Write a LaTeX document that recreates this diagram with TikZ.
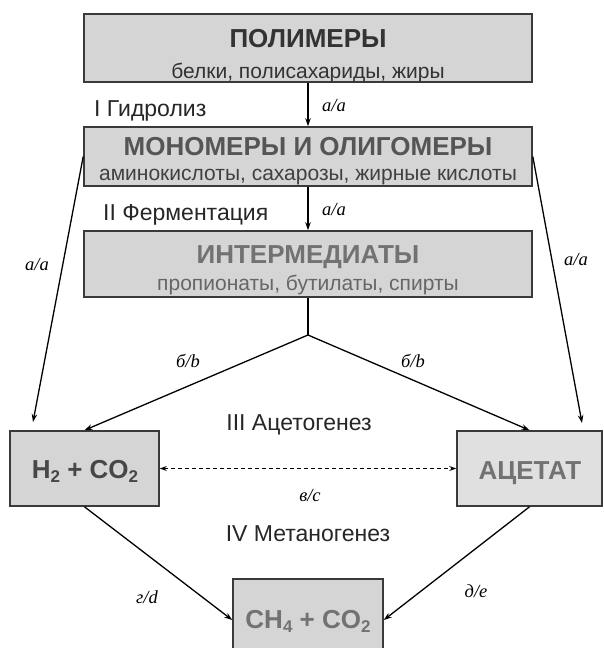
\documentclass[tikz,border=0pt]{standalone}
\usepackage{fontspec}
\setmainfont{Liberation Sans}
\newfontfamily\lblfont{Liberation Serif}
\usetikzlibrary{arrows.meta}
\definecolor{boxfill}{HTML}{D5D5D5}
\definecolor{boxfilllight}{HTML}{E0E0E0}
\definecolor{boxline}{HTML}{3A3A3A}
\definecolor{inkdark}{HTML}{333333}
\definecolor{inkmid}{HTML}{555555}
\definecolor{inklight}{HTML}{727272}
% lowered index digit for chemical formulas
\newcommand\lowidx[1]{\raisebox{-4pt}{\fontsize{17}{17}\selectfont #1}}
\begin{document}
\begin{tikzpicture}[x=1pt,y=-1pt,
  stagebox/.style={draw=boxline, line width=1.6pt, fill=boxfill, rectangle, inner sep=0pt},
  title/.style={anchor=base, inner sep=0pt, font=\fontsize{26}{26}\selectfont\bfseries},
  subline/.style={anchor=base, inner sep=0pt, font=\fontsize{21}{21}\selectfont},
  phase/.style={anchor=base west, inner sep=0pt, font=\fontsize{23}{23}\selectfont, text=black!85},
  lbl/.style={anchor=base, inner sep=0pt, font=\lblfont\itshape\fontsize{18.5}{18.5}\selectfont},
  arr/.style={line width=1.3pt, -{Stealth[length=8pt,width=5.5pt]}},
  link/.style={line width=1.3pt},
  dasharr/.style={line width=1pt, dash pattern=on 4pt off 3pt, {Stealth[length=7pt,width=5pt]}-{Stealth[length=7pt,width=5pt]}},
]
\clip (0,0) rectangle (604,648);
\fill[white] (0,0) rectangle (604,648);

% stage boxes
\node[stagebox, minimum width=448pt, minimum height=68pt] (poly) at (308,48) {};
\node[stagebox, minimum width=448pt, minimum height=59pt] (mono) at (308,156.5) {};
\node[stagebox, minimum width=448pt, minimum height=66pt] (inter) at (308,264) {};
\node[stagebox, minimum width=149pt, minimum height=75pt] (h2) at (84.5,468.5) {};
\node[stagebox, fill=boxfilllight, minimum width=145pt, minimum height=75pt] (acet) at (529.5,468.5) {};
\node[stagebox, minimum width=150pt, minimum height=82pt] (ch4) at (308,620) {};

% box texts
\node[title, text=inkdark] (polyT) at (308,47) {ПОЛИМЕРЫ};
\node[subline, text=inkdark] (polyS) at (308,78) {белки, полисахариды, жиры};
\node[title, text=inkmid] (monoT) at (308,155) {МОНОМЕРЫ И ОЛИГОМЕРЫ};
\node[subline, text=black!75] (monoS) at (308,180) {аминокислоты, сахарозы, жирные кислоты};
\node[title, text=inklight] (interT) at (308,263) {ИНТЕРМЕДИАТЫ};
\node[subline, text=black!60] (interS) at (308,290) {пропионаты, бутилаты, спирты};
\node[title, text=black!72] (h2T) at (85,478) {H\lowidx{2} + CO\lowidx{2}};
\node[title, text=inklight] (acetT) at (530,479) {АЦЕТАТ};
\node[title, text=inklight] (ch4T) at (308,628) {CH\lowidx{4} + CO\lowidx{2}};

% phase names
\node[phase] (ph1) at (94,116) {I Гидролиз};
\node[phase] (ph2) at (103,220) {II Ферментация};
\node[phase, anchor=base] (ph3) at (299,430) {III Ацетогенез};
\node[phase, anchor=base] (ph4) at (308,541) {IV Метаногенез};

% connectors
\coordinate (split) at (308,335);
\coordinate (h2in) at (33,422);
\coordinate (acin) at (582,423);
\draw[arr] (poly) -- (mono);
\draw[arr] (mono) -- (inter);
\draw[link] (inter.south) -- (split);
\draw[arr] (split) -- (h2.north);
\draw[arr] (split) -- (acet.north);
\draw[arr] (mono.west) -- (h2in);
\draw[arr] (mono.east) -- (acin);
\draw[dasharr] (h2.east) -- (acet.west);
\draw[arr] (h2.south) -- (ch4.west);
\draw[arr] (acet.south) -- (ch4.east);

% connector labels
\node[lbl] (l1) at (334,111) {а/a};
\node[lbl] (l2) at (334,215) {а/a};
\node[lbl] (l3) at (37,270) {а/a};
\node[lbl] (l4) at (576,265) {а/a};
\node[lbl] (l5) at (188,367) {б/b};
\node[lbl] (l6) at (413,367) {б/b};
\node[lbl] (l7) at (310,501) {в/c};
\node[lbl] (l8) at (147,603) {г/d};
\node[lbl] (l9) at (476,597) {д/e};
\end{tikzpicture}
\end{document}
